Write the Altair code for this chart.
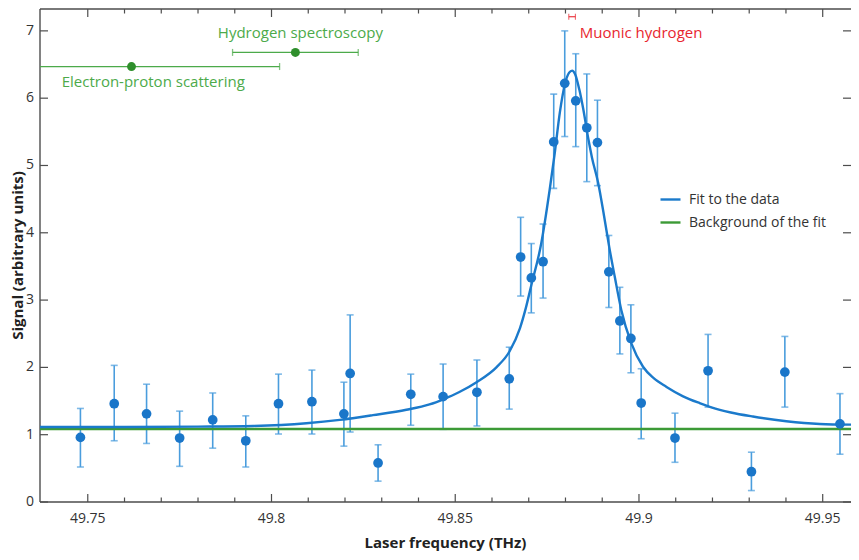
import altair as alt
import pandas as pd

# ---------------- data ----------------
freq = [49.7480, 49.7572, 49.7660, 49.7750, 49.7840, 49.7930, 49.8019, 49.8110,
        49.8197, 49.8214, 49.8290, 49.8379, 49.8467, 49.8559, 49.8647, 49.8678,
        49.8707, 49.8739, 49.8768, 49.8798, 49.8828, 49.8858, 49.8887, 49.8918,
        49.8948, 49.8978, 49.9006, 49.9098, 49.9188, 49.9306, 49.9397, 49.9547]
signal = [0.96, 1.46, 1.31, 0.95, 1.22, 0.91, 1.46, 1.49,
          1.31, 1.91, 0.58, 1.60, 1.565, 1.63, 1.83, 3.64,
          3.33, 3.57, 5.35, 6.22, 5.96, 5.56, 5.34, 3.42,
          2.69, 2.43, 1.47, 0.95, 1.95, 0.45, 1.93, 1.16]
sig_hi = [1.39, 2.03, 1.75, 1.35, 1.62, 1.28, 1.90, 1.96,
          1.78, 2.78, 0.85, 1.90, 2.05, 2.11, 2.30, 4.23,
          3.84, 4.13, 6.06, 7.00, 6.66, 6.36, 5.97, 3.96,
          3.19, 2.93, 1.98, 1.32, 2.49, 0.74, 2.46, 1.61]
sig_lo = [0.52, 0.91, 0.87, 0.53, 0.80, 0.52, 1.01, 1.01,
          0.83, 1.04, 0.31, 1.14, 1.08, 1.13, 1.38, 3.06,
          2.81, 3.03, 4.66, 5.43, 5.28, 4.76, 4.70, 2.89,
          2.20, 1.92, 0.94, 0.59, 1.41, 0.17, 1.41, 0.71]

fit_freq = [49.7370, 49.7600, 49.7800, 49.7950, 49.8095, 49.8186, 49.8276, 49.8367,
            49.8430, 49.8469, 49.8510, 49.8558, 49.8612, 49.8648, 49.8676, 49.8692,
            49.8707, 49.8734, 49.8757, 49.8770, 49.8785, 49.8798, 49.8810, 49.8818,
            49.8826, 49.8838, 49.8848, 49.8862, 49.8872, 49.8889, 49.8905, 49.8919,
            49.8934, 49.8952, 49.8979, 49.9011, 49.9040, 49.9075, 49.9120, 49.9165,
            49.9220, 49.9250, 49.9310, 49.9401, 49.9492, 49.9580]
fit_signal = [1.115, 1.115, 1.12, 1.13, 1.17, 1.22, 1.29, 1.37,
              1.45, 1.53, 1.63, 1.78, 2.00, 2.24, 2.58, 2.88,
              3.22, 3.84, 4.64, 5.15, 5.80, 6.20, 6.38, 6.41,
              6.36, 6.12, 5.85, 5.40, 5.12, 4.74, 4.25, 3.79,
              3.35, 2.85, 2.36, 2.01, 1.84, 1.71, 1.57, 1.47,
              1.37, 1.33, 1.27, 1.20, 1.16, 1.15]
background_level = [1.085]
series_names = ["Fit to the data", "Background of the fit"]

ref_labels = ["Electron-proton scattering", "Hydrogen spectroscopy"]
ref_freq = [49.7619, 49.8065]
ref_lo = [49.7216, 49.7894]
ref_hi = [49.8022, 49.8236]
ref_signal = [6.47, 6.68]
ref_text_x = [49.7429, 49.7854]
ref_text_y = [6.16, 6.90]

muon_label = ["Muonic hydrogen"]
muon_lo = [49.8809]
muon_hi = [49.8827]
muon_signal = [7.21]
muon_text_x = [49.8839]
muon_text_y = [6.90]

x_major = [49.75, 49.80, 49.85, 49.90, 49.95]
x_major_labels = ["49.75", "49.8", "49.85", "49.9", "49.95"]
x_minor = [49.76, 49.77, 49.78, 49.79, 49.81, 49.82, 49.83, 49.84, 49.86, 49.87,
           49.88, 49.89, 49.91, 49.92, 49.93, 49.94]
y_ticks = [0, 1, 2, 3, 4, 5, 6, 7]
y_tick_labels = ["0", "1", "2", "3", "4", "5", "6", "7"]
x_title = ["Laser frequency (THz)"]
y_title = ["Signal (arbitrary units)"]

# ---------------- layout constants ----------------
FONT = "Open Sans"
W, H = 811, 493
X0, X1 = 49.737, 49.9577
YMAX = 7.325
MAJ, MIN = 8, 4.5

# ---------------- tables ----------------
df_pts = pd.DataFrame({"freq": freq, "signal": signal, "lo": sig_lo, "hi": sig_hi})
df_fit = pd.DataFrame({"freq": fit_freq, "signal": fit_signal, "series": series_names[0]})
df_bg = pd.DataFrame({"signal": background_level, "series": [series_names[1]]})
df_ref = pd.DataFrame({"label": ref_labels, "freq": ref_freq, "lo": ref_lo, "hi": ref_hi,
                       "signal": ref_signal, "tx": ref_text_x, "ty": ref_text_y})
df_muon = pd.DataFrame({"label": muon_label, "lo": muon_lo, "hi": muon_hi,
                        "signal": muon_signal, "tx": muon_text_x, "ty": muon_text_y})
df_xmaj = pd.DataFrame({"tick": x_major, "label": x_major_labels})
df_xmin = pd.DataFrame({"tick": x_minor})
df_yt = pd.DataFrame({"tick": y_ticks, "label": y_tick_labels})
df_left = pd.DataFrame({"tick": [X0]})
df_bottom = pd.DataFrame({"tick": [0.0]})
df_top = pd.DataFrame({"tick": [YMAX]})
df_xtitle = pd.DataFrame({"label": x_title})
df_ytitle = pd.DataFrame({"label": y_title})

# ---------------- styling ----------------
BLUE = "#1a76c9"
BLUE_ERR = "#4a9ddd"
BLUE_FIT = "#1b7acb"
GREEN_BG = "#3c9a36"
GREEN_TXT = "#4caa4a"
GREEN_DOT = "#2f8f2c"
RED = "#e8262f"
AX = "#4d4d4d"
LABEL = "#333333"
TITLE = "#222222"

xs = alt.Scale(domain=[X0, X1], nice=False, zero=False)
ys = alt.Scale(domain=[0, YMAX], nice=False, zero=False)
color_scale = alt.Scale(domain=series_names, range=[BLUE_FIT, GREEN_BG])


def X(field):
    return alt.X(f"{field}:Q", scale=xs, axis=None)


def Y(field):
    return alt.Y(f"{field}:Q", scale=ys, axis=None)


legend = alt.Legend(orient="none", legendX=619, legendY=179, title=None, symbolType="stroke",
                    symbolSize=400, symbolStrokeWidth=2.4, labelFont=FONT, labelFontSize=14,
                    labelColor=LABEL, labelOffset=7, rowPadding=4, padding=0)

# ---- box frame: edges, inward ticks, tick labels and titles ----
def xticks(df, y0, y1):
    return alt.Chart(df).mark_rule(color=AX, strokeWidth=1.2).encode(
        x=X("tick"), y=alt.value(y0), y2=alt.value(y1))


def yticks(x0, x1):
    return alt.Chart(df_yt).mark_rule(color=AX, strokeWidth=1.2).encode(
        y=Y("tick"), x=alt.value(x0), x2=alt.value(x1))


frame = [
    alt.Chart(df_left).mark_rule(color=AX, strokeWidth=1.4).encode(x=X("tick")),
    alt.Chart(df_bottom).mark_rule(color=AX, strokeWidth=1.4).encode(y=Y("tick")),
    alt.Chart(df_top).mark_rule(color=AX, strokeWidth=1.4).encode(y=Y("tick")),
    xticks(df_xmaj, H, H - MAJ), xticks(df_xmin, H, H - MIN),
    xticks(df_xmaj, 0, MAJ), xticks(df_xmin, 0, MIN),
    yticks(0, MAJ), yticks(W, W - MAJ),
    alt.Chart(df_xmaj).mark_text(baseline="top", font=FONT, fontSize=14, color=LABEL).encode(
        x=X("tick"), y=alt.value(H + 10), text="label:N"),
    alt.Chart(df_yt).mark_text(align="right", baseline="middle", font=FONT, fontSize=14,
                               color=LABEL).encode(
        y=Y("tick"), x=alt.value(-6), text="label:N"),
    alt.Chart(df_xtitle).mark_text(baseline="top", font=FONT, fontSize=15, fontWeight="bold",
                                   color=TITLE).encode(
        x=alt.value(W / 2), y=alt.value(H + 34), text="label:N"),
    alt.Chart(df_ytitle).mark_text(angle=270, baseline="middle", font=FONT, fontSize=15,
                                   fontWeight="bold", color=TITLE).encode(
        x=alt.value(-22), y=alt.value(H / 2), text="label:N"),
]

errbars = alt.Chart(df_pts).mark_errorbar(color=BLUE_ERR, thickness=1.6, ticks={"size": 7}).encode(
    x=X("freq"), y=Y("lo"), y2="hi:Q",
)

bg = alt.Chart(df_bg).mark_rule(strokeWidth=2.4).encode(
    y=Y("signal"),
    color=alt.Color("series:N", scale=color_scale, legend=legend),
)

fit = alt.Chart(df_fit).mark_line(strokeWidth=2.4, interpolate="monotone").encode(
    x=X("freq"), y=Y("signal"),
    color=alt.Color("series:N", scale=color_scale, legend=legend),
)

points = alt.Chart(df_pts).mark_circle(size=95, opacity=1, color=BLUE).encode(
    x=X("freq"), y=Y("signal"),
)

ref_bars = alt.Chart(df_ref).mark_errorbar(color=GREEN_TXT, thickness=1.3, ticks={"size": 7},
                                           clip=True).encode(
    x=X("lo"), x2="hi:Q", y=Y("signal"),
)

ref_pts = alt.Chart(df_ref).mark_circle(size=80, opacity=1, color=GREEN_DOT).encode(
    x=X("freq"), y=Y("signal"),
)

ref_text = alt.Chart(df_ref).mark_text(align="left", baseline="alphabetic", font=FONT,
                                       fontSize=15, color=GREEN_TXT).encode(
    x=X("tx"), y=Y("ty"), text="label:N",
)

muon_bar = alt.Chart(df_muon).mark_errorbar(color=RED, thickness=1.1, ticks={"size": 6}).encode(
    x=X("lo"), x2="hi:Q", y=Y("signal"),
)

muon_text = alt.Chart(df_muon).mark_text(align="left", baseline="alphabetic", font=FONT,
                                         fontSize=15, color=RED).encode(
    x=X("tx"), y=Y("ty"), text="label:N",
)

chart = alt.layer(
    *frame, errbars, bg, fit, points, ref_bars, ref_pts, ref_text, muon_bar, muon_text
).properties(
    width=W, height=H,
    autosize=alt.AutoSizeParams(type="none"),
    padding={"left": 32, "top": 1, "right": 0, "bottom": 50},
).configure(
    font=FONT,
    view=alt.ViewConfig(stroke="transparent"),
)

chart.save("out.html", embed_options={"renderer": "svg", "actions": False})
